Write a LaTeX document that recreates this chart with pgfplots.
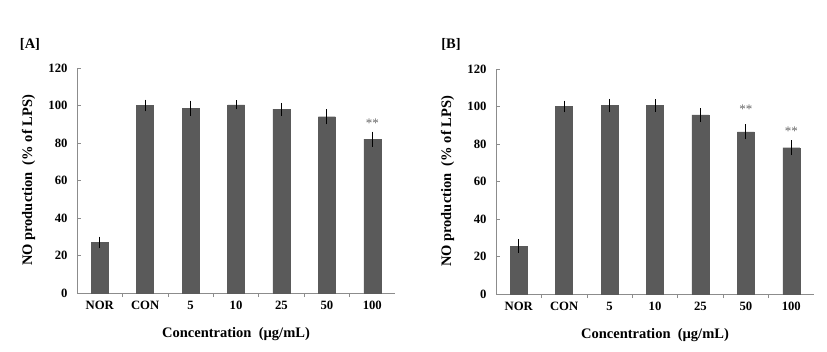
\documentclass[border=0pt]{standalone}
\usepackage{fontspec}
\setmainfont{Liberation Serif}
\usepackage{pgfplots}
\pgfplotsset{compat=1.18}
\definecolor{barc}{HTML}{5A5A5A}
\definecolor{axc}{HTML}{8C8C8C}
\definecolor{starc}{HTML}{666666}
\pgfplotsset{panel/.style={
  scale only axis, width=318pt, height=225pt, anchor=south west,
  xmin=-0.5, xmax=6.5, ymin=0, ymax=120,
  ytick={0,20,...,120},
  xtick={0,...,6}, xticklabels={NOR,CON,5,10,25,50,100},
  minor xtick={0.5,1.5,...,5.5},
  axis x line*=bottom, axis y line*=left,
  axis line style={axc, line width=0.6pt},
  tick align=inside, major tick length=4pt, minor tick length=4pt,
  major x tick style={draw=none},
  minor x tick style={axc, line width=0.6pt, yshift=-4pt},
  major y tick style={axc, line width=0.6pt},
  /pgf/number format/assume math mode=true,
  ticklabel style={font=\bfseries\fontsize{12.7}{13}\selectfont},
  yticklabel style={xshift=-6pt},
  xticklabel style={yshift=-5pt},
  label style={font=\bfseries\fontsize{14.5}{15}\selectfont},
  ylabel={NO production\ \ (\% of LPS)},
  xlabel={Concentration\ \ (µg/mL)},
  ylabel style={at={(axis description cs:-0.152,0.5)}, anchor=center},
  xlabel style={at={(axis description cs:0.5,-0.182)}, anchor=center},
  clip=false,
},
bars/.style={ybar, fill=barc, draw=barc, bar width=17pt,
  error bars/.cd, y dir=both, y explicit,
  error bar style={black, line width=1pt},
  error mark options={black, line width=1pt, mark size=3pt}},
stars/.style={draw=none, mark=none, nodes near coords={**},
  every node near coord/.style={font=\fontsize{13}{13}\selectfont, text=starc, anchor=center}}
}
\begin{document}
\begin{tikzpicture}
\path[use as bounding box] (0,0) rectangle (827pt,351pt);
\begin{axis}[panel, at={(77pt,58pt)}]
\addplot[bars] coordinates {
(0,27) +- (0,1.5)
(1,100) +- (0,1.5)
(2,98.5) +- (0,2.5)
(3,100.3) +- (0,0.8)
(4,98) +- (0,1.8)
(5,94) +- (0,2.5)
(6,82) +- (0,2.5)
};
\addplot[stars] coordinates {(6,90.7)};
\end{axis}
\begin{axis}[panel, at={(496pt,57pt)}]
\addplot[bars] coordinates {
(0,25.5) +- (0,2)
(1,100) +- (0,1.5)
(2,100.5) +- (0,2)
(3,100.5) +- (0,1.8)
(4,95.5) +- (0,2)
(5,86.5) +- (0,2.3)
(6,78) +- (0,2.3)
};
\addplot[stars] coordinates {(5,98.6) (6,86.8)};
\end{axis}
\node[font=\bfseries\fontsize{14.5}{15}\selectfont] at (30pt,307pt) {[A]};
\node[font=\bfseries\fontsize{14.5}{15}\selectfont] at (451pt,307pt) {[B]};
\end{tikzpicture}
\end{document}
